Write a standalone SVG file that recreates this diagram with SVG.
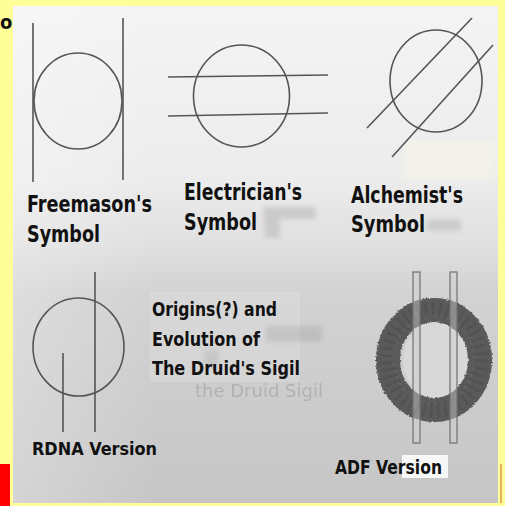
<svg xmlns="http://www.w3.org/2000/svg" width="505" height="506" viewBox="0 0 505 506">
<style>
.sym{fill:none;stroke:#555;stroke-width:1.6}
.lbl{font-family:"Liberation Sans Narrow","DejaVu Sans Condensed","Liberation Sans",sans-serif;font-weight:bold;fill:#111}
.ghost{font-family:"DejaVu Sans","Liberation Sans",sans-serif;fill:#8a8a8a;opacity:0.4}
</style>
<defs>
<linearGradient id="bg" x1="0" y1="0" x2="0" y2="1">
<stop offset="0" stop-color="#f4f4f4"/>
<stop offset="0.35" stop-color="#ececec"/>
<stop offset="0.48" stop-color="#e0e0e0"/>
<stop offset="0.58" stop-color="#d2d2d2"/>
<stop offset="1" stop-color="#c6c6c6"/>
</linearGradient>
<linearGradient id="lf" x1="0" y1="0" x2="1" y2="0">
<stop offset="0" stop-color="#ffffff" stop-opacity="0.25"/>
<stop offset="0.3" stop-color="#ffffff" stop-opacity="0"/>
</linearGradient>
<filter id="blur" x="-30%" y="-30%" width="160%" height="160%"><feGaussianBlur stdDeviation="2.5"/></filter>
<filter id="rough" x="-40%" y="-40%" width="180%" height="180%">
<feTurbulence type="fractalNoise" baseFrequency="0.5" numOctaves="2" seed="3" result="n"/>
<feDisplacementMap in="SourceGraphic" in2="n" scale="3" xChannelSelector="R" yChannelSelector="G"/>
</filter>
</defs>
<rect width="505" height="506" fill="#ffff99"/>
<rect x="0" y="464" width="10" height="42" fill="#ff0000"/>
<line x1="501" y1="464" x2="501" y2="503" stroke="#e07a3a" stroke-width="1.2"/>
<text x="0" y="29" class="lbl" font-size="20">o</text>
<rect x="13" y="6" width="485" height="497" fill="url(#bg)"/>
<rect x="13" y="6" width="485" height="497" fill="url(#lf)"/>
<rect x="405" y="140" width="90" height="40" fill="#f6f4e6" opacity="0.6" filter="url(#blur)"/>

<g id="freemason">
<line class="sym" x1="33" y1="23" x2="33" y2="182"/>
<line class="sym" x1="123" y1="18" x2="123" y2="180"/>
<ellipse class="sym" cx="78" cy="101" rx="44" ry="48"/>
<text class="lbl" x="27" y="212" font-size="23" textLength="125" lengthAdjust="spacingAndGlyphs">Freemason's</text>
<text class="lbl" x="27" y="242" font-size="23" textLength="73" lengthAdjust="spacingAndGlyphs">Symbol</text>
</g>

<g id="electrician">
<line class="sym" x1="168" y1="77" x2="328" y2="75"/>
<line class="sym" x1="168" y1="116" x2="328" y2="113"/>
<ellipse class="sym" cx="241.5" cy="96" rx="48" ry="51"/>
<path d="M263 207 H316 V219 H280 V238 H265 Z" fill="#c2c2c2" opacity="0.75" filter="url(#blur)"/>
<text class="lbl" x="184" y="200" font-size="23" textLength="118" lengthAdjust="spacingAndGlyphs">Electrician's</text>
<text class="lbl" x="184" y="230" font-size="23" textLength="73" lengthAdjust="spacingAndGlyphs">Symbol</text>
</g>

<g id="alchemist">
<line class="sym" x1="367" y1="128" x2="472" y2="18"/>
<line class="sym" x1="392" y1="157" x2="493" y2="45"/>
<ellipse class="sym" cx="436" cy="81" rx="46" ry="51"/>
<rect x="427" y="219" width="34" height="12" fill="#b0b0b0" opacity="0.45" filter="url(#blur)"/>
<text class="lbl" x="351" y="203" font-size="23" textLength="112" lengthAdjust="spacingAndGlyphs">Alchemist's</text>
<text class="lbl" x="351" y="232" font-size="23" textLength="74" lengthAdjust="spacingAndGlyphs">Symbol</text>
</g>

<g id="title">
<rect x="150" y="292" width="150" height="90" fill="#ffffff" opacity="0.15"/>
<rect x="266" y="326" width="56" height="16" fill="#9a9a9a" opacity="0.3" filter="url(#blur)"/>
<rect x="204" y="350" width="14" height="16" fill="#9a9a9a" opacity="0.25" filter="url(#blur)"/>
<text class="ghost" x="195" y="397" font-size="18">the Druid Sigil</text>
<text class="lbl" x="152" y="316" font-size="20" textLength="125" lengthAdjust="spacingAndGlyphs">Origins(?) and</text>
<text class="lbl" x="152" y="346" font-size="20" textLength="108" lengthAdjust="spacingAndGlyphs">Evolution of</text>
<text class="lbl" x="152" y="375" font-size="20" textLength="148" lengthAdjust="spacingAndGlyphs">The Druid's Sigil</text>
</g>

<g id="rdna">
<ellipse class="sym" cx="78.5" cy="347" rx="45.5" ry="49"/>
<line class="sym" x1="95" y1="272" x2="95" y2="432"/>
<line class="sym" x1="63" y1="353" x2="63" y2="432"/>
<text class="lbl" x="32" y="455" font-size="18" textLength="125" lengthAdjust="spacingAndGlyphs">RDNA Version</text>
</g>

<g id="adf">
<ellipse cx="436" cy="360" rx="33" ry="38" fill="#d8d8d8"/>
<g filter="url(#rough)">
<ellipse cx="434" cy="360" rx="46" ry="50" fill="none" stroke="#5a5a5a" stroke-width="24"/>
<ellipse cx="434" cy="360" rx="46" ry="50" fill="none" stroke="#3e3e3e" stroke-width="16" stroke-dasharray="2 5" opacity="0.3"/>
<ellipse cx="434" cy="360" rx="40" ry="44" fill="none" stroke="#777" stroke-width="3" stroke-dasharray="3 4" opacity="0.3"/>
</g>
<rect x="413" y="272" width="7" height="171" fill="#cfcfcf" fill-opacity="0.45" stroke="#707070" stroke-width="1.2"/>
<rect x="450" y="272" width="7" height="171" fill="#cfcfcf" fill-opacity="0.45" stroke="#707070" stroke-width="1.2"/>
<rect x="402" y="455" width="46" height="23" fill="#ffffff" opacity="0.85"/>
<text class="lbl" x="335" y="474" font-size="19" textLength="107" lengthAdjust="spacingAndGlyphs">ADF Version</text>
</g>
</svg>
